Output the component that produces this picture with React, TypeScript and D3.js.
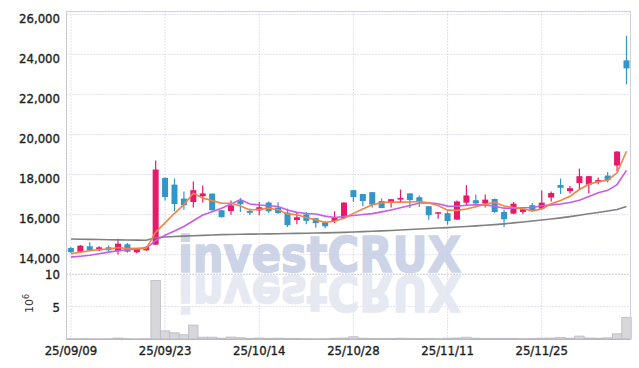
import React from "react";
import * as d3 from "d3";

const dates = [
  "25/09/09","25/09/10","25/09/11","25/09/12","25/09/15","25/09/16","25/09/17","25/09/18","25/09/19","25/09/22",
  "25/09/23","25/09/24","25/09/25","25/09/26","25/09/29","25/09/30","25/10/01","25/10/02","25/10/10","25/10/13",
  "25/10/14","25/10/15","25/10/16","25/10/17","25/10/20","25/10/21","25/10/22","25/10/23","25/10/24","25/10/27",
  "25/10/28","25/10/29","25/10/30","25/10/31","25/11/03","25/11/04","25/11/05","25/11/06","25/11/07","25/11/10",
  "25/11/11","25/11/12","25/11/13","25/11/14","25/11/17","25/11/18","25/11/19","25/11/20","25/11/21","25/11/24",
  "25/11/25","25/11/26","25/11/27","25/11/28","25/12/01","25/12/02","25/12/03","25/12/04","25/12/05","25/12/08",
];

const opens = [
  14330,14150,14420,14220,14370,14170,14520,14120,14220,14500,
  17830,17500,16800,16630,16920,17050,16220,16180,16680,16180,
  16210,16600,16350,16100,15730,16010,15820,15620,15680,15830,
  17220,17030,17120,16680,16580,16750,17060,16870,16420,16080,
  16070,15750,16600,16720,16550,16780,16130,16050,16130,16470,
  16300,16850,17480,17170,17580,17500,17620,17950,18450,23700,
];
const highs = [
  14380,14480,14620,14420,14460,14800,14580,14330,14430,18700,
  17850,17800,17150,17650,17450,17060,16230,16700,16830,16300,
  16630,16650,16620,16300,16080,16130,15830,15680,16170,16620,
  17230,17040,17130,16800,16780,17250,17070,16960,16430,16130,
  16170,16700,17470,17000,17000,16800,16250,16630,16380,16580,
  17200,17150,17800,17430,18300,17930,17850,18130,19170,24930,
];
const lows = [
  14080,14120,14180,14180,14180,14010,14100,14070,14180,14480,
  16700,16170,16250,16350,16600,16200,15850,15990,16130,15980,
  15970,16080,16050,15380,15515,15520,15350,15320,15580,15800,
  16630,16420,16360,16320,16350,16580,16330,16380,15750,15800,
  15500,15740,16470,16450,16350,16100,15380,16020,16020,16130,
  16280,16650,17030,17050,17250,17050,17520,17600,18150,22500,
];
const closes = [
  14130,14450,14220,14370,14220,14550,14150,14290,14380,18250,
  16880,16530,16470,17220,17060,16220,15880,16460,16520,16090,
  16370,16170,16080,15470,15870,15690,15580,15420,15830,16600,
  16880,16680,16500,16330,16770,16830,16730,16630,15970,16120,
  15680,16660,16960,16560,16750,16130,15770,16550,16270,16220,
  16600,17080,17340,17320,17920,17920,17730,17720,19150,23300,
];

// volume in millions of shares
const volumesM = [
  0.05,0.06,0.05,0.04,0.05,0.15,0.06,0.04,0.05,9.05,
  1.25,0.95,0.65,2.15,0.28,0.28,0.12,0.3,0.2,0.08,
  0.15,0.1,0.12,0.1,0.08,0.06,0.05,0.06,0.12,0.15,
  0.35,0.12,0.1,0.08,0.1,0.12,0.1,0.08,0.1,0.06,
  0.12,0.15,0.28,0.12,0.1,0.08,0.1,0.1,0.06,0.08,
  0.12,0.15,0.25,0.12,0.45,0.15,0.12,0.18,0.8,3.35,
];

const ma5 = [
  14050,14130,14200,14260,14278,14362,14302,14316,14318,15124,
  15590,16066,16502,17070,16832,16700,16570,16568,16428,16234,
  16264,16322,16246,16036,15992,15856,15738,15606,15678,15824,
  16062,16282,16498,16598,16632,16622,16632,16658,16586,16456,
  16226,16212,16278,16396,16522,16612,16434,16352,16294,16188,
  16282,16544,16708,16914,17254,17518,17648,17718,18088,19164,
];
const ma10 = [
  13880,13920,13970,14050,14130,14200,14250,14290,14330,14701,
  14976,15184,15409,15694,15978,16145,16318,16535,16749,16533,
  16482,16446,16407,16232,16113,16060,16030,15926,15857,15908,
  15959,16010,16052,16138,16228,16342,16457,16578,16592,16544,
  16424,16422,16468,16491,16489,16419,16323,16315,16345,16355,
  16447,16489,16530,16604,16721,16900,17096,17213,17501,18209,
];
const maLong = [
  14780,14772,14765,14757,14750,14742,14735,14727,14720,14850,
  14880,14905,14925,14945,14965,14985,15000,15010,15020,15025,
  15030,15040,15048,15055,15063,15070,15080,15090,15100,15115,
  15130,15150,15170,15190,15210,15230,15255,15280,15305,15330,
  15350,15380,15410,15440,15470,15500,15540,15590,15630,15680,
  15730,15780,15840,15900,15970,16040,16110,16180,16260,16410,
];

const priceTicks = [14000, 16000, 18000, 20000, 22000, 24000, 26000];
const volumeTicks = [5, 10];
const dateTickIdx = [0, 10, 20, 30, 40, 50];

const UP = "#e8196a";
const DOWN = "#3296c8";
const GRID = "#c4c4d6";
const FONT = "'DejaVu Sans Condensed', 'DejaVu Sans', sans-serif";

export default function App() {
  const W = 639, H = 368;
  const L = 66.5, R = 630.5, T = 11.5, B = 339.5;
  const idx = d3.range(dates.length);
  const x = d3.scaleBand<number>().domain(idx).range([66.2, 631.2]);
  const cx = (i: number) => (x(i) as number) + x.bandwidth() / 2;
  const y = d3.scaleLinear().domain([14000, 26000]).range([254.7, 14.3]);
  const yv = d3.scaleLinear().domain([0, 10]).range([339, 274.3]);

  const line = (arr: number[]) =>
    d3.line<number>().x((_, i) => cx(i)).y((d) => y(d))(arr) as string;

  const bodyW = 6;
  const labelStyle = { fontSize: 13, fill: "#1e1e1e", stroke: "#1e1e1e", strokeWidth: 0.35 };

  return (
    <svg width={W} height={H} style={{ position: "absolute", left: 0, top: 0, background: "#fff" }}
      fontFamily={FONT}>
      <rect x={0} y={0} width={W} height={H} fill="#fff" />
      {/* grid */}
      {priceTicks.map((t) => (
        <line key={"pg" + t} x1={L} x2={R} y1={y(t)} y2={y(t)} stroke={GRID} strokeWidth={1} strokeDasharray="1,2" />
      ))}
      {volumeTicks.map((t) => (
        <line key={"vg" + t} x1={L} x2={R} y1={yv(t)} y2={yv(t)}
          stroke={t === 10 ? "#9a9aae" : GRID} strokeWidth={1} strokeDasharray="1,2" />
      ))}
      {dateTickIdx.map((i) => (
        <line key={"xg" + i} x1={cx(i)} x2={cx(i)} y1={T} y2={B} stroke={GRID} strokeWidth={1} strokeDasharray="1,2" />
      ))}

      {/* watermark */}
      <g>
        <text x={178} y={271.5} fontFamily="'DejaVu Sans', sans-serif" fontWeight="bold" fontSize={50}
          fill="#c6cde5" stroke="#c6cde5" strokeWidth={1.6} opacity={0.85}
          textLength={283} lengthAdjust="spacingAndGlyphs">investCRUX</text>
        <g transform="translate(0,547) scale(1,-1)">
          <text x={178} y={271.5} fontFamily="'DejaVu Sans', sans-serif" fontWeight="bold" fontSize={50}
            fill="#e4e7f1" stroke="#e4e7f1" strokeWidth={1.6} opacity={0.9}
            textLength={283} lengthAdjust="spacingAndGlyphs">investCRUX</text>
        </g>
      </g>

      {/* volume bars */}
      {volumesM.map((v, i) => (
        <rect key={"v" + i} x={x(i) as number} y={yv(v)} width={x.bandwidth()} height={Math.max(0.5, yv(0) - yv(v))}
          fill="#d6d6db" stroke="#b9b9c2" strokeWidth={0.8} />
      ))}

      {/* candles */}
      {idx.map((i) => {
        const o = opens[i], c = closes[i], h = highs[i], l = lows[i];
        const col = c >= o ? UP : DOWN;
        const top = y(Math.max(o, c));
        const bh = Math.max(1.5, Math.abs(y(o) - y(c)));
        return (
          <g key={"c" + i}>
            <line x1={cx(i)} x2={cx(i)} y1={y(h)} y2={y(l)} stroke={col} strokeWidth={1.2} />
            <rect x={cx(i) - bodyW / 2} y={top} width={bodyW} height={bh} fill={col} />
          </g>
        );
      })}

      {/* moving averages */}
      <path d={line(maLong)} fill="none" stroke="#808080" strokeWidth={1.6} />
      <path d={line(ma10)} fill="none" stroke="#c65ce8" strokeWidth={1.6} />
      <path d={line(ma5)} fill="none" stroke="#f08446" strokeWidth={1.6} />

      {/* borders */}
      <line x1={L} x2={L} y1={T} y2={B} stroke="#c8c8d2" strokeWidth={1} />
      <line x1={R} x2={R} y1={T} y2={B} stroke="#d0d0da" strokeWidth={1} />
      <line x1={L} x2={R} y1={T} y2={T} stroke="#d0d0da" strokeWidth={1} />
      <line x1={L} x2={R} y1={B} y2={B} stroke="#b8b8c2" strokeWidth={1} />

      {/* price labels */}
      {priceTicks.map((t) => (
        <text key={"pl" + t} x={60} y={y(t) + 8.3} textAnchor="end" {...labelStyle}>
          {d3.format(",")(t)}
        </text>
      ))}
      {volumeTicks.map((t) => (
        <text key={"vl" + t} x={60} y={yv(t) + 5} textAnchor="end" {...labelStyle}>
          {t}
        </text>
      ))}
      <text transform="translate(33,313) rotate(-90)" fontFamily="'DejaVu Sans', sans-serif" fontSize={11} fill="#333">
        10<tspan dy={-4} fontSize={8}>6</tspan>
      </text>

      {/* date labels */}
      {dateTickIdx.map((i) => (
        <text key={"dl" + i} x={cx(i)} y={355} textAnchor="middle" {...labelStyle}>
          {dates[i]}
        </text>
      ))}
    </svg>
  );
}
